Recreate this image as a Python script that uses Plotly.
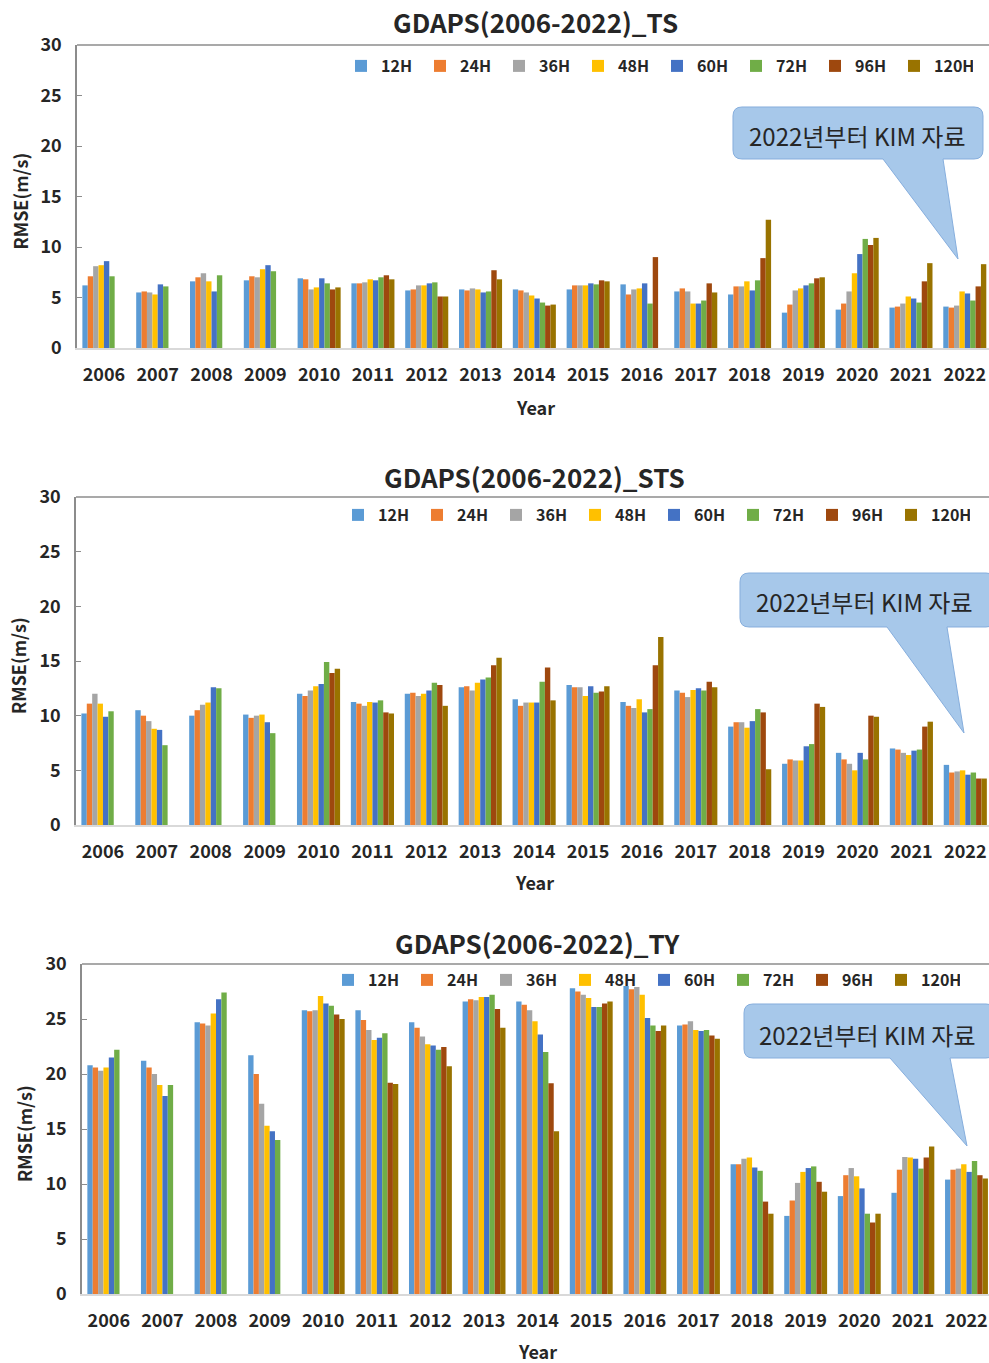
import plotly.graph_objects as go

W, H = 989, 1363

years = [str(y) for y in range(2006, 2023)]
horizons = ["12H", "24H", "36H", "48H", "60H", "72H", "96H", "120H"]
colors = ["#5B9BD5", "#ED7D31", "#A5A5A5", "#FFC000", "#4472C4", "#70AD47", "#9E480E", "#997300"]
NA = None

# ---- TS ----
ts_12h = [6.2, 5.5, 6.6, 6.7, 6.9, 6.4, 5.7, 5.8, 5.8, 5.8, 6.3, 5.6, 5.3, 3.5, 3.8, 4.0, 4.1]
ts_24h = [7.1, 5.6, 7.0, 7.1, 6.8, 6.4, 5.8, 5.7, 5.7, 6.2, 5.3, 5.9, 6.1, 4.3, 4.4, 4.1, 4.0]
ts_36h = [8.1, 5.5, 7.4, 7.0, 5.8, 6.5, 6.2, 5.9, 5.5, 6.2, 5.8, 5.6, 6.1, 5.7, 5.6, 4.4, 4.2]
ts_48h = [8.2, 5.3, 6.6, 7.8, 6.0, 6.8, 6.2, 5.8, 5.2, 6.2, 5.9, 4.4, 6.6, 5.9, 7.4, 5.1, 5.6]
ts_60h = [8.6, 6.3, 5.6, 8.2, 6.9, 6.7, 6.4, 5.5, 4.9, 6.4, 6.4, 4.4, 5.7, 6.2, 9.3, 4.9, 5.4]
ts_72h = [7.1, 6.1, 7.2, 7.6, 6.4, 7.0, 6.5, 5.6, 4.5, 6.3, 4.4, 4.7, 6.7, 6.4, 10.8, 4.5, 4.7]
ts_96h = [NA, NA, NA, NA, 5.8, 7.2, 5.1, 7.7, 4.2, 6.7, 9.0, 6.4, 8.9, 6.9, 10.2, 6.6, 6.1]
ts_120h = [NA, NA, NA, NA, 6.0, 6.8, 5.1, 6.8, 4.3, 6.6, NA, 5.5, 12.7, 7.0, 10.9, 8.4, 8.3]

# ---- STS ----
sts_12h = [10.2, 10.5, 10.0, 10.1, 12.0, 11.25, 12.0, 12.6, 11.5, 12.8, 11.25, 12.3, 9.0, 5.6, 6.6, 7.0, 5.5]
sts_24h = [11.1, 10.0, 10.5, 9.8, 11.8, 11.1, 12.1, 12.7, 10.9, 12.6, 10.9, 12.1, 9.4, 6.0, 6.0, 6.9, 4.8]
sts_36h = [12.0, 9.5, 11.0, 10.0, 12.3, 10.9, 11.8, 12.3, 11.2, 12.6, 10.7, 11.7, 9.4, 5.9, 5.6, 6.6, 4.9]
sts_48h = [11.1, 8.8, 11.2, 10.1, 12.7, 11.25, 12.0, 13.0, 11.2, 11.8, 11.5, 12.35, 8.9, 5.9, 5.0, 6.4, 5.0]
sts_60h = [9.9, 8.7, 12.6, 9.4, 12.9, 11.2, 12.3, 13.3, 11.2, 12.7, 10.3, 12.5, 9.5, 7.2, 6.6, 6.8, 4.6]
sts_72h = [10.4, 7.3, 12.5, 8.4, 14.9, 11.4, 13.0, 13.5, 13.1, 12.1, 10.6, 12.3, 10.6, 7.4, 6.0, 6.9, 4.8]
sts_96h = [NA, NA, NA, NA, 13.9, 10.3, 12.8, 14.6, 14.4, 12.2, 14.6, 13.1, 10.3, 11.1, 10.0, 9.0, 4.25]
sts_120h = [NA, NA, NA, NA, 14.3, 10.2, 10.9, 15.3, 11.4, 12.7, 17.2, 12.6, 5.1, 10.8, 9.9, 9.45, 4.25]

# ---- TY ----
ty_12h = [20.8, 21.2, 24.7, 21.7, 25.8, 25.8, 24.7, 26.6, 26.6, 27.8, 28.0, 24.4, 11.8, 7.1, 8.9, 9.2, 10.4]
ty_24h = [20.6, 20.6, 24.6, 20.0, 25.7, 24.9, 24.2, 26.8, 26.3, 27.5, 27.7, 24.5, 11.8, 8.5, 10.8, 11.3, 11.3]
ty_36h = [20.3, 20.0, 24.4, 17.3, 25.8, 24.0, 23.4, 26.7, 25.8, 27.2, 27.9, 24.8, 12.3, 10.1, 11.45, 12.45, 11.4]
ty_48h = [20.6, 19.0, 25.5, 15.3, 27.1, 23.1, 22.7, 27.0, 24.8, 26.9, 27.2, 24.0, 12.4, 11.1, 10.7, 12.4, 11.8]
ty_60h = [21.5, 18.0, 26.8, 14.8, 26.4, 23.3, 22.6, 27.0, 23.6, 26.1, 25.1, 23.9, 11.5, 11.45, 9.6, 12.3, 11.1]
ty_72h = [22.2, 19.0, 27.4, 14.0, 26.2, 23.7, 22.2, 27.2, 22.0, 26.1, 24.4, 24.0, 11.2, 11.6, 7.3, 11.4, 12.1]
ty_96h = [NA, NA, NA, NA, 25.4, 19.2, 22.45, 25.9, 19.15, 26.4, 23.9, 23.5, 8.4, 10.2, 6.5, 12.4, 10.8]
ty_120h = [NA, NA, NA, NA, 25.0, 19.1, 20.7, 24.2, 14.8, 26.6, 24.4, 23.2, 7.3, 9.3, 7.3, 13.4, 10.5]

titles = ["GDAPS(2006-2022)_TS", "GDAPS(2006-2022)_STS", "GDAPS(2006-2022)_TY"]
callout_text = "2022년부터 KIM 자료"
y_title = "RMSE(m/s)"
x_title = "Year"

panel_data = [
    [ts_12h, ts_24h, ts_36h, ts_48h, ts_60h, ts_72h, ts_96h, ts_120h],
    [sts_12h, sts_24h, sts_36h, sts_48h, sts_60h, sts_72h, sts_96h, sts_120h],
    [ty_12h, ty_24h, ty_36h, ty_48h, ty_60h, ty_72h, ty_96h, ty_120h],
]

# layout geometry (pixels)
geo = [
    dict(left=77, top=45, bottom=348, xend=16.45, title_y=22, year_y=407, ytitle_x=20,
         leg_x=341, leg_y=66, box=(733, 107, 983, 159), base=(883, 943), tip=(958, 259), text_xy=(857, 135)),
    dict(left=76, top=497, bottom=825, xend=16.44, title_y=477, year_y=882, ytitle_x=18,
         leg_x=338, leg_y=515, box=(740, 573, 995, 627), base=(887, 947), tip=(964, 733), text_xy=(864, 602)),
    dict(left=82, top=964, bottom=1294, xend=16.42, title_y=942, year_y=1351, ytitle_x=24,
         leg_x=328, leg_y=980, box=(744, 1004, 995, 1058), base=(890, 950), tip=(967, 1146), text_xy=(867, 1034)),
]

FONT = "Noto Sans CJK KR, Noto Sans, sans-serif"
TXT = "#262626"


def px(x):
    return x / W


def py(y):
    return 1 - y / H


fig = go.Figure()
annotations = []
shapes = []
layout = {}

for i, (g, series) in enumerate(zip(geo, panel_data)):
    sfx = "" if i == 0 else str(i + 1)
    leg = "legend" + sfx
    for name, vals, col in zip(horizons, series, colors):
        fig.add_trace(go.Bar(
            x=years, y=vals, name=name, marker=dict(color=col, line=dict(width=0)),
            xaxis="x" + sfx, yaxis="y" + sfx, legend=leg,
            hovertemplate="%{x} " + name + ": %{y}<extra></extra>",
        ))
    layout["xaxis" + sfx] = dict(
        domain=[px(g["left"]), 1], range=[-0.5, g["xend"]], type="category",
        anchor="y" + sfx, showline=True, linecolor="#D9D9D9", linewidth=1.5,
        showgrid=False, ticks="", tickfont=dict(family=FONT, size=18, color=TXT, weight="bold"),
        ticklabelstandoff=10, fixedrange=True,
    )
    layout["yaxis" + sfx] = dict(
        domain=[py(g["bottom"]), py(g["top"])], range=[0, 30], dtick=5,
        anchor="x" + sfx, showline=True, linecolor="#8C8C8C", linewidth=1.5,
        showgrid=False, zeroline=False, ticks="inside", ticklen=5, tickcolor="#8C8C8C",
        tickfont=dict(family=FONT, size=18, color=TXT, weight="bold"),
        ticklabelstandoff=10, fixedrange=True,
    )
    layout[leg] = dict(
        orientation="h", x=px(g["leg_x"]), y=py(g["leg_y"]), xanchor="left", yanchor="middle",
        entrywidth=34, entrywidthmode="pixels", bgcolor="rgba(0,0,0,0)",
        font=dict(family=FONT, size=16, color=TXT, weight="bold"), itemwidth=30,
        traceorder="normal",
    )
    # top border
    shapes.append(dict(type="line", xref="x" + sfx + " domain", yref="y" + sfx + " domain",
                       x0=0, x1=1, y0=1, y1=1, line=dict(color="#8C8C8C", width=1.5)))
    # title
    annotations.append(dict(text=titles[i], x=px((g["left"] + 993) / 2), y=py(g["title_y"]),
                            xref="paper", yref="paper", showarrow=False, xanchor="center", yanchor="middle",
                            font=dict(family=FONT, size=26, color=TXT, weight="bold")))
    annotations.append(dict(text=y_title, x=px(g["ytitle_x"]), y=py((g["top"] + g["bottom"]) / 2 + 5),
                            xref="paper", yref="paper", showarrow=False, textangle=-90,
                            xanchor="center", yanchor="middle",
                            font=dict(family=FONT, size=18, color=TXT, weight="bold")))
    annotations.append(dict(text=x_title, x=px((g["left"] + 993) / 2), y=py(g["year_y"]),
                            xref="paper", yref="paper", showarrow=False, xanchor="center", yanchor="middle",
                            font=dict(family=FONT, size=18, color=TXT, weight="bold")))
    # callout
    L, T, R, B = g["box"]
    b0, b1 = g["base"]
    tx, ty = g["tip"]
    r = 9
    pts = [
        ("M", [(L + r, T)]), ("L", [(R - r, T)]), ("Q", [(R, T), (R, T + r)]),
        ("L", [(R, B - r)]), ("Q", [(R, B), (R - r, B)]), ("L", [(b1, B)]), ("L", [(tx, ty)]),
        ("L", [(b0, B)]), ("L", [(L + r, B)]), ("Q", [(L, B), (L, B - r)]), ("L", [(L, T + r)]),
        ("Q", [(L, T), (L + r, T)]),
    ]
    path = " ".join(cmd + " " + " ".join(f"{px(a):.5f},{py(b):.5f}" for a, b in p) for cmd, p in pts) + " Z"
    shapes.append(dict(type="path", xref="paper", yref="paper", path=path,
                       fillcolor="#A7C8EA", line=dict(color="#86AEDD", width=1), layer="above"))
    annotations.append(dict(text=callout_text, x=px(g["text_xy"][0]), y=py(g["text_xy"][1]),
                            xref="paper", yref="paper", showarrow=False, xanchor="center", yanchor="middle",
                            font=dict(family=FONT, size=24, color=TXT)))

fig.update_layout(
    width=W, height=H, margin=dict(l=0, r=0, t=0, b=0, autoexpand=False),
    paper_bgcolor="white", plot_bgcolor="white",
    barmode="group", bargap=0.2, bargroupgap=0,
    annotations=annotations, shapes=shapes, **layout,
)

fig.write_html(
    "out.html",
    config={"displayModeBar": False},
    post_script="document.body.style.margin='0';document.body.style.overflow='hidden';",
)
